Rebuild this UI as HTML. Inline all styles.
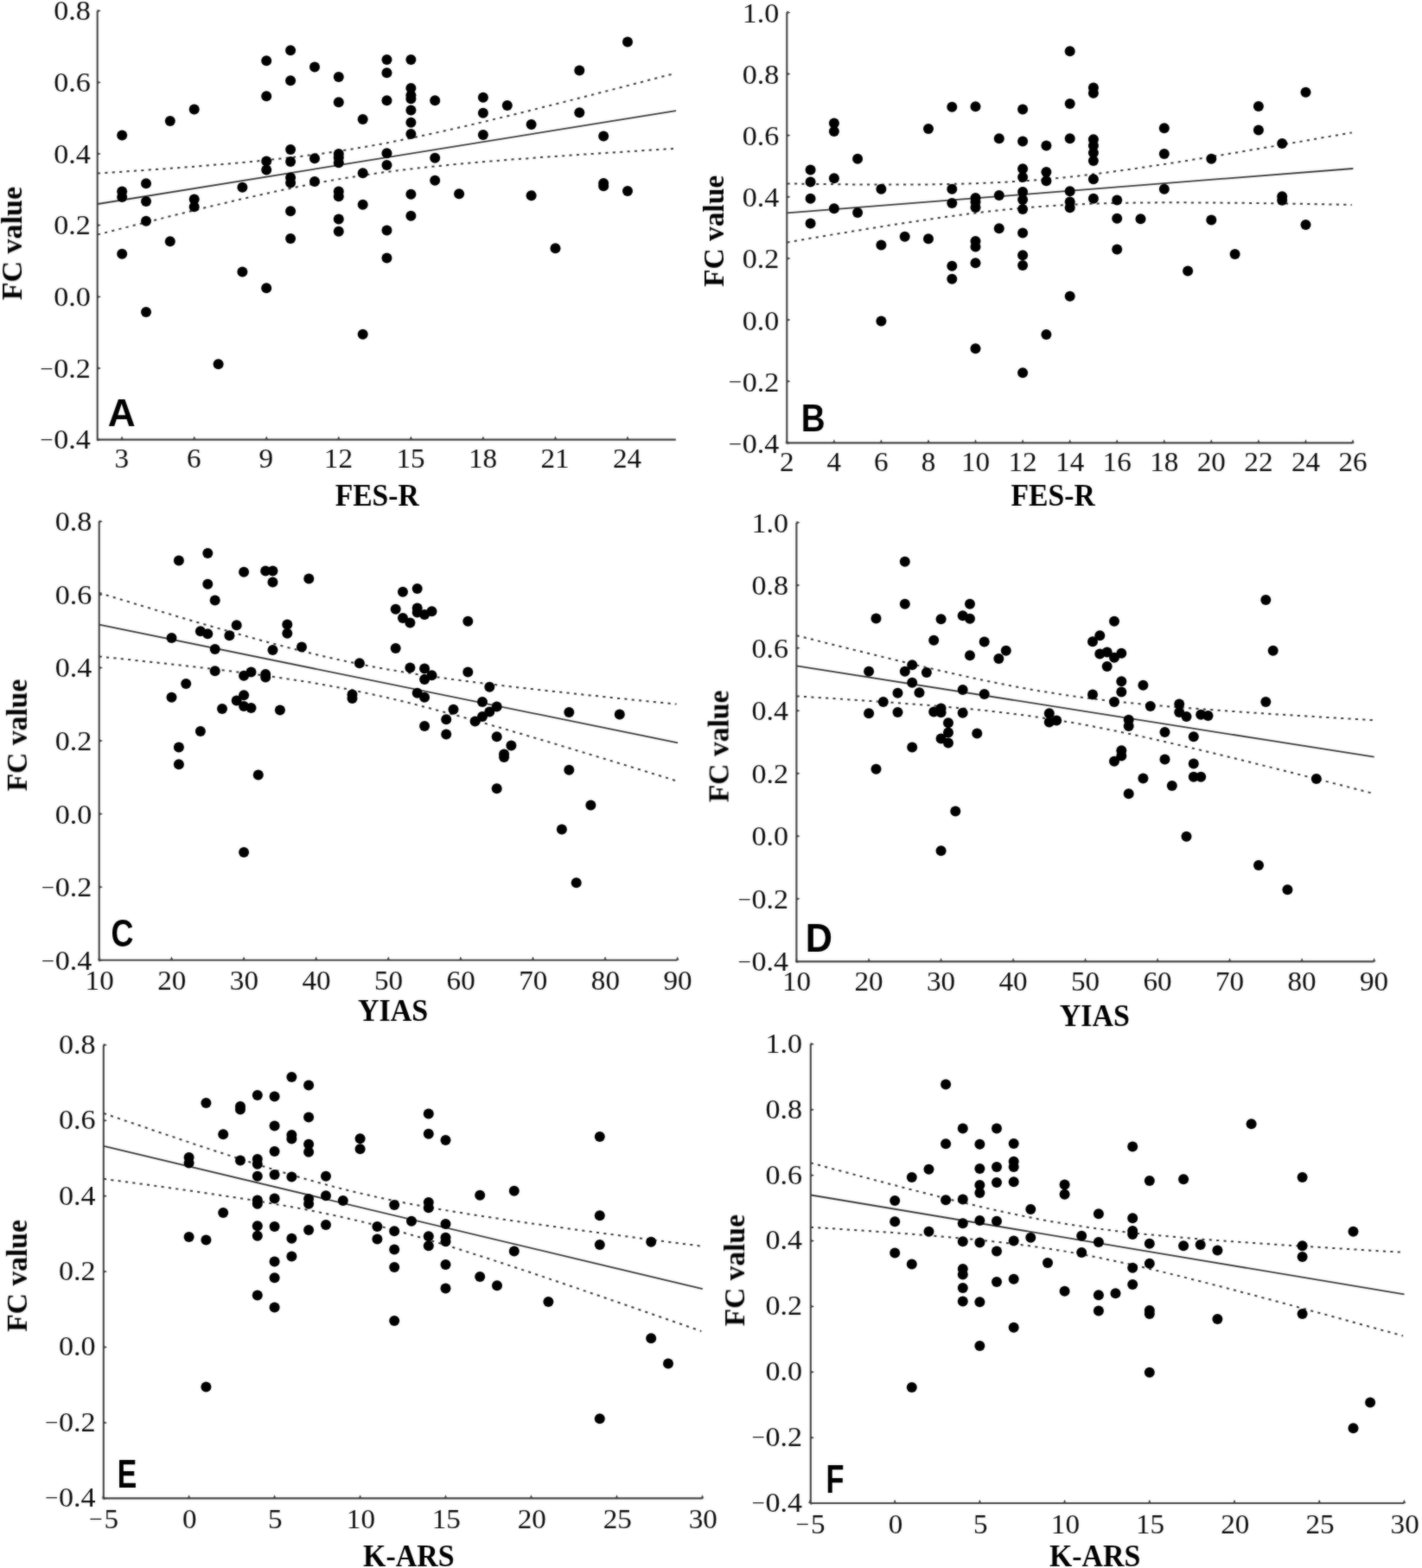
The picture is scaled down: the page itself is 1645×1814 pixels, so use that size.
<!DOCTYPE html>
<html lang="en">
<head>
<meta charset="utf-8">
<title>FC value correlations</title>
<style>
html,body{margin:0;padding:0;background:#fff;}
body{width:1645px;height:1814px;overflow:hidden;}
svg{display:block;}
.t{font-family:"Liberation Serif","DejaVu Serif",serif;font-size:31.0px;fill:#111;}
.l{font-family:"Liberation Serif","DejaVu Serif",serif;font-size:35.0px;font-weight:bold;fill:#000;}
.p{font-family:"Liberation Sans","DejaVu Sans",sans-serif;font-size:45.0px;font-weight:bold;fill:#000;}
circle{fill:#000;}
</style>
</head>
<body>
<svg width="1645" height="1814" viewBox="0 0 1645 1814">
<defs><filter id="soft" x="0" y="0" width="1645" height="1814" filterUnits="userSpaceOnUse"><feGaussianBlur in="SourceGraphic" stdDeviation="0.8" result="b"/><feComposite in="SourceGraphic" in2="b" operator="arithmetic" k1="0" k2="0.5" k3="0.5" k4="0"/></filter></defs>
<rect width="1645" height="1814" fill="#fff"/>
<g filter="url(#soft)">
<g id="panel-A">
<path d="M112.7 12.4 V508.6 H781.8" fill="none" stroke="#444" stroke-width="2.1"/>
<path d="M139.2 508.6 l1.9 -4.2 l1.9 4.2z M222.8 508.6 l1.9 -4.2 l1.9 4.2z M306.4 508.6 l1.9 -4.2 l1.9 4.2z M389.9 508.6 l1.9 -4.2 l1.9 4.2z M473.5 508.6 l1.9 -4.2 l1.9 4.2z M557.0 508.6 l1.9 -4.2 l1.9 4.2z M640.6 508.6 l1.9 -4.2 l1.9 4.2z M724.1 508.6 l1.9 -4.2 l1.9 4.2z M112.7 10.7 l4.2 1.9 l-4.2 1.9z M112.7 93.4 l4.2 1.9 l-4.2 1.9z M112.7 176.0 l4.2 1.9 l-4.2 1.9z M112.7 258.7 l4.2 1.9 l-4.2 1.9z M112.7 341.4 l4.2 1.9 l-4.2 1.9z M112.7 424.1 l4.2 1.9 l-4.2 1.9z M112.7 506.8 l4.2 1.9 l-4.2 1.9z" fill="#444" stroke="none"/>
<path d="M113.0 236.0 L782.0 128.2" fill="none" stroke="#383838" stroke-width="1.8"/>
<path d="M113.0 200.6 L124.1 199.8 L135.2 199.1 L146.4 198.3 L157.5 197.6 L168.6 196.8 L179.8 196.0 L190.9 195.2 L202.0 194.4 L213.1 193.6 L224.2 192.7 L235.4 191.8 L246.5 190.9 L257.6 190.0 L268.8 189.0 L279.9 188.0 L291.0 187.0 L302.1 185.9 L313.2 184.7 L324.4 183.6 L335.5 182.3 L346.6 181.0 L357.8 179.6 L368.9 178.1 L380.0 176.6 L391.1 174.9 L402.2 173.2 L413.4 171.4 L424.5 169.5 L435.6 167.5 L446.8 165.5 L457.9 163.3 L469.0 161.1 L480.1 158.8 L491.2 156.4 L502.4 154.0 L513.5 151.6 L524.6 149.0 L535.8 146.5 L546.9 143.9 L558.0 141.3 L569.1 138.6 L580.2 135.9 L591.4 133.2 L602.5 130.5 L613.6 127.7 L624.8 124.9 L635.9 122.1 L647.0 119.3 L658.1 116.5 L669.2 113.7 L680.4 110.9 L691.5 108.0 L702.6 105.1 L713.8 102.3 L724.9 99.4 L736.0 96.5 L747.1 93.6 L758.2 90.7 L769.4 87.8 L780.5 84.9" fill="none" stroke="#383838" stroke-width="2.0" stroke-dasharray="3.1 5.3"/>
<path d="M113.0 271.4 L124.1 268.6 L135.2 265.7 L146.4 262.9 L157.5 260.1 L168.6 257.3 L179.8 254.5 L190.9 251.7 L202.0 248.9 L213.1 246.2 L224.2 243.4 L235.4 240.7 L246.5 238.1 L257.6 235.4 L268.8 232.8 L279.9 230.2 L291.0 227.7 L302.1 225.2 L313.2 222.7 L324.4 220.3 L335.5 218.0 L346.6 215.7 L357.8 213.5 L368.9 211.4 L380.0 209.4 L391.1 207.4 L402.2 205.6 L413.4 203.8 L424.5 202.1 L435.6 200.5 L446.8 199.0 L457.9 197.5 L469.0 196.2 L480.1 194.9 L491.2 193.7 L502.4 192.5 L513.5 191.4 L524.6 190.3 L535.8 189.3 L546.9 188.3 L558.0 187.3 L569.1 186.4 L580.2 185.5 L591.4 184.6 L602.5 183.8 L613.6 183.0 L624.8 182.1 L635.9 181.3 L647.0 180.6 L658.1 179.8 L669.2 179.0 L680.4 178.3 L691.5 177.6 L702.6 176.8 L713.8 176.1 L724.9 175.4 L736.0 174.7 L747.1 174.0 L758.2 173.3 L769.4 172.6 L780.5 171.9" fill="none" stroke="#383838" stroke-width="2.0" stroke-dasharray="3.1 5.3"/>
<circle cx="141.2" cy="156.5" r="6.0"/>
<circle cx="141.2" cy="221.6" r="6.0"/>
<circle cx="141.2" cy="228.0" r="6.0"/>
<circle cx="141.2" cy="293.8" r="6.0"/>
<circle cx="169.0" cy="212.2" r="6.0"/>
<circle cx="169.0" cy="233.1" r="6.0"/>
<circle cx="169.0" cy="255.7" r="6.0"/>
<circle cx="169.0" cy="361.1" r="6.0"/>
<circle cx="196.8" cy="139.9" r="6.0"/>
<circle cx="196.8" cy="279.3" r="6.0"/>
<circle cx="224.7" cy="126.4" r="6.0"/>
<circle cx="224.7" cy="230.5" r="6.0"/>
<circle cx="224.7" cy="239.2" r="6.0"/>
<circle cx="252.6" cy="421.2" r="6.0"/>
<circle cx="280.4" cy="216.8" r="6.0"/>
<circle cx="280.4" cy="314.6" r="6.0"/>
<circle cx="308.2" cy="70.2" r="6.0"/>
<circle cx="308.2" cy="111.3" r="6.0"/>
<circle cx="308.2" cy="186.4" r="6.0"/>
<circle cx="308.2" cy="196.6" r="6.0"/>
<circle cx="308.2" cy="333.2" r="6.0"/>
<circle cx="336.1" cy="58.2" r="6.0"/>
<circle cx="336.1" cy="93.2" r="6.0"/>
<circle cx="336.1" cy="173.1" r="6.0"/>
<circle cx="336.1" cy="186.9" r="6.0"/>
<circle cx="336.1" cy="205.5" r="6.0"/>
<circle cx="336.1" cy="211.4" r="6.0"/>
<circle cx="336.1" cy="244.3" r="6.0"/>
<circle cx="336.1" cy="276.0" r="6.0"/>
<circle cx="364.0" cy="77.6" r="6.0"/>
<circle cx="364.0" cy="183.3" r="6.0"/>
<circle cx="364.0" cy="209.9" r="6.0"/>
<circle cx="391.8" cy="89.1" r="6.0"/>
<circle cx="391.8" cy="118.2" r="6.0"/>
<circle cx="391.8" cy="178.0" r="6.0"/>
<circle cx="391.8" cy="182.2" r="6.0"/>
<circle cx="391.8" cy="188.2" r="6.0"/>
<circle cx="391.8" cy="221.6" r="6.0"/>
<circle cx="391.8" cy="227.2" r="6.0"/>
<circle cx="391.8" cy="253.4" r="6.0"/>
<circle cx="391.8" cy="267.7" r="6.0"/>
<circle cx="419.7" cy="138.1" r="6.0"/>
<circle cx="419.7" cy="200.2" r="6.0"/>
<circle cx="419.7" cy="236.7" r="6.0"/>
<circle cx="419.7" cy="386.8" r="6.0"/>
<circle cx="447.5" cy="68.9" r="6.0"/>
<circle cx="447.5" cy="84.2" r="6.0"/>
<circle cx="447.5" cy="116.2" r="6.0"/>
<circle cx="447.5" cy="177.2" r="6.0"/>
<circle cx="447.5" cy="191.0" r="6.0"/>
<circle cx="447.5" cy="266.4" r="6.0"/>
<circle cx="447.5" cy="298.4" r="6.0"/>
<circle cx="475.4" cy="68.9" r="6.0"/>
<circle cx="475.4" cy="102.1" r="6.0"/>
<circle cx="475.4" cy="110.3" r="6.0"/>
<circle cx="475.4" cy="114.3" r="6.0"/>
<circle cx="475.4" cy="127.6" r="6.0"/>
<circle cx="475.4" cy="141.7" r="6.0"/>
<circle cx="475.4" cy="155.0" r="6.0"/>
<circle cx="475.4" cy="224.7" r="6.0"/>
<circle cx="475.4" cy="249.8" r="6.0"/>
<circle cx="503.2" cy="116.2" r="6.0"/>
<circle cx="503.2" cy="182.8" r="6.0"/>
<circle cx="503.2" cy="208.8" r="6.0"/>
<circle cx="531.1" cy="224.2" r="6.0"/>
<circle cx="558.9" cy="112.8" r="6.0"/>
<circle cx="558.9" cy="130.7" r="6.0"/>
<circle cx="558.9" cy="156.0" r="6.0"/>
<circle cx="586.8" cy="122.0" r="6.0"/>
<circle cx="614.6" cy="144.0" r="6.0"/>
<circle cx="614.6" cy="226.2" r="6.0"/>
<circle cx="642.5" cy="287.2" r="6.0"/>
<circle cx="670.3" cy="81.4" r="6.0"/>
<circle cx="670.3" cy="130.2" r="6.0"/>
<circle cx="698.2" cy="157.5" r="6.0"/>
<circle cx="698.2" cy="211.9" r="6.0"/>
<circle cx="698.2" cy="215.2" r="6.0"/>
<circle cx="726.0" cy="48.5" r="6.0"/>
<circle cx="726.0" cy="221.1" r="6.0"/>
<text class="t" text-anchor="middle" transform="translate(140.8 541.2) scale(1.070 1)">3</text>
<text class="t" text-anchor="middle" transform="translate(224.3 541.2) scale(1.070 1)">6</text>
<text class="t" text-anchor="middle" transform="translate(307.9 541.2) scale(1.070 1)">9</text>
<text class="t" text-anchor="middle" transform="translate(391.4 541.2) scale(1.070 1)">12</text>
<text class="t" text-anchor="middle" transform="translate(475.0 541.2) scale(1.070 1)">15</text>
<text class="t" text-anchor="middle" transform="translate(558.5 541.2) scale(1.070 1)">18</text>
<text class="t" text-anchor="middle" transform="translate(642.1 541.2) scale(1.070 1)">21</text>
<text class="t" text-anchor="middle" transform="translate(725.6 541.2) scale(1.070 1)">24</text>
<text class="t" text-anchor="end" transform="translate(104.9 23.3) scale(1.100 1)">0.8</text>
<text class="t" text-anchor="end" transform="translate(104.9 106.0) scale(1.100 1)">0.6</text>
<text class="t" text-anchor="end" transform="translate(104.9 188.6) scale(1.100 1)">0.4</text>
<text class="t" text-anchor="end" transform="translate(104.9 271.3) scale(1.100 1)">0.2</text>
<text class="t" text-anchor="end" transform="translate(104.9 354.0) scale(1.100 1)">0.0</text>
<text class="t" text-anchor="end" transform="translate(104.9 436.7) scale(1.100 1)"><tspan font-size="24.6" dy="-2.2">−</tspan><tspan dx="0.4" dy="2.2">0.2</tspan></text>
<text class="t" text-anchor="end" transform="translate(104.9 519.4) scale(1.100 1)"><tspan font-size="24.6" dy="-2.2">−</tspan><tspan dx="0.4" dy="2.2">0.4</tspan></text>
<text class="l" transform="translate(387.63 585.4) scale(0.9613 1)">FES-R</text>
<text class="l" transform="translate(25.2 347.28) rotate(-90) scale(0.9723 0.972)">FC value</text>
<text class="p" transform="translate(124.77 493.0) scale(0.9832 0.9981)">A</text>
</g>
<g id="panel-B">
<path d="M910.3 14.2 V512.4 H1565.3" fill="none" stroke="#444" stroke-width="2.1"/>
<path d="M908.4 512.4 l1.9 -4.2 l1.9 4.2z M963.0 512.4 l1.9 -4.2 l1.9 4.2z M1017.5 512.4 l1.9 -4.2 l1.9 4.2z M1072.1 512.4 l1.9 -4.2 l1.9 4.2z M1126.6 512.4 l1.9 -4.2 l1.9 4.2z M1181.2 512.4 l1.9 -4.2 l1.9 4.2z M1235.8 512.4 l1.9 -4.2 l1.9 4.2z M1290.3 512.4 l1.9 -4.2 l1.9 4.2z M1344.9 512.4 l1.9 -4.2 l1.9 4.2z M1399.4 512.4 l1.9 -4.2 l1.9 4.2z M1454.0 512.4 l1.9 -4.2 l1.9 4.2z M1508.6 512.4 l1.9 -4.2 l1.9 4.2z M1563.1 512.4 l1.9 -4.2 l1.9 4.2z M910.3 12.5 l4.2 1.9 l-4.2 1.9z M910.3 83.6 l4.2 1.9 l-4.2 1.9z M910.3 154.8 l4.2 1.9 l-4.2 1.9z M910.3 225.9 l4.2 1.9 l-4.2 1.9z M910.3 297.1 l4.2 1.9 l-4.2 1.9z M910.3 368.2 l4.2 1.9 l-4.2 1.9z M910.3 439.3 l4.2 1.9 l-4.2 1.9z M910.3 510.5 l4.2 1.9 l-4.2 1.9z" fill="#444" stroke="none"/>
<path d="M910.6 246.4 L1565.3 195.0" fill="none" stroke="#383838" stroke-width="1.8"/>
<path d="M910.6 212.4 L921.5 212.6 L932.4 212.7 L943.3 212.9 L954.1 213.0 L965.0 213.1 L975.9 213.3 L986.8 213.4 L997.7 213.4 L1008.6 213.5 L1019.5 213.5 L1030.4 213.6 L1041.2 213.5 L1052.1 213.5 L1063.0 213.4 L1073.9 213.4 L1084.8 213.2 L1095.7 213.0 L1106.6 212.8 L1117.4 212.5 L1128.3 212.2 L1139.2 211.8 L1150.1 211.3 L1161.0 210.8 L1171.9 210.1 L1182.8 209.4 L1193.7 208.7 L1204.5 207.8 L1215.4 206.8 L1226.3 205.8 L1237.2 204.7 L1248.1 203.5 L1259.0 202.2 L1269.9 200.9 L1280.7 199.5 L1291.6 198.0 L1302.5 196.5 L1313.4 195.0 L1324.3 193.4 L1335.2 191.7 L1346.1 190.1 L1357.0 188.4 L1367.8 186.7 L1378.7 184.9 L1389.6 183.2 L1400.5 181.4 L1411.4 179.6 L1422.3 177.8 L1433.2 176.0 L1444.0 174.1 L1454.9 172.3 L1465.8 170.4 L1476.7 168.6 L1487.6 166.7 L1498.5 164.8 L1509.4 162.9 L1520.3 161.0 L1531.1 159.1 L1542.0 157.2 L1552.9 155.3 L1563.8 153.4" fill="none" stroke="#383838" stroke-width="2.0" stroke-dasharray="3.1 5.3"/>
<path d="M910.6 280.4 L921.5 278.5 L932.4 276.6 L943.3 274.8 L954.1 272.9 L965.0 271.1 L975.9 269.3 L986.8 267.5 L997.7 265.7 L1008.6 263.9 L1019.5 262.2 L1030.4 260.4 L1041.2 258.7 L1052.1 257.1 L1063.0 255.4 L1073.9 253.8 L1084.8 252.2 L1095.7 250.7 L1106.6 249.2 L1117.4 247.8 L1128.3 246.4 L1139.2 245.1 L1150.1 243.9 L1161.0 242.7 L1171.9 241.6 L1182.8 240.6 L1193.7 239.7 L1204.5 238.9 L1215.4 238.1 L1226.3 237.4 L1237.2 236.9 L1248.1 236.3 L1259.0 235.9 L1269.9 235.5 L1280.7 235.2 L1291.6 235.0 L1302.5 234.8 L1313.4 234.6 L1324.3 234.5 L1335.2 234.4 L1346.1 234.3 L1357.0 234.3 L1367.8 234.3 L1378.7 234.4 L1389.6 234.4 L1400.5 234.5 L1411.4 234.6 L1422.3 234.7 L1433.2 234.8 L1444.0 234.9 L1454.9 235.0 L1465.8 235.2 L1476.7 235.4 L1487.6 235.5 L1498.5 235.7 L1509.4 235.9 L1520.3 236.1 L1531.1 236.3 L1542.0 236.5 L1552.9 236.7 L1563.8 236.9" fill="none" stroke="#383838" stroke-width="2.0" stroke-dasharray="3.1 5.3"/>
<circle cx="937.6" cy="196.6" r="6.0"/>
<circle cx="937.6" cy="210.6" r="6.0"/>
<circle cx="937.6" cy="229.8" r="6.0"/>
<circle cx="937.6" cy="258.4" r="6.0"/>
<circle cx="964.9" cy="142.5" r="6.0"/>
<circle cx="964.9" cy="151.9" r="6.0"/>
<circle cx="964.9" cy="206.3" r="6.0"/>
<circle cx="964.9" cy="241.3" r="6.0"/>
<circle cx="992.1" cy="183.8" r="6.0"/>
<circle cx="992.1" cy="245.9" r="6.0"/>
<circle cx="1019.4" cy="218.8" r="6.0"/>
<circle cx="1019.4" cy="283.4" r="6.0"/>
<circle cx="1019.4" cy="371.4" r="6.0"/>
<circle cx="1046.7" cy="273.7" r="6.0"/>
<circle cx="1074.0" cy="149.1" r="6.0"/>
<circle cx="1074.0" cy="276.2" r="6.0"/>
<circle cx="1101.3" cy="123.8" r="6.0"/>
<circle cx="1101.3" cy="218.8" r="6.0"/>
<circle cx="1101.3" cy="234.9" r="6.0"/>
<circle cx="1101.3" cy="307.8" r="6.0"/>
<circle cx="1101.3" cy="322.8" r="6.0"/>
<circle cx="1128.5" cy="123.3" r="6.0"/>
<circle cx="1128.5" cy="229.0" r="6.0"/>
<circle cx="1128.5" cy="233.6" r="6.0"/>
<circle cx="1128.5" cy="240.0" r="6.0"/>
<circle cx="1128.5" cy="279.0" r="6.0"/>
<circle cx="1128.5" cy="285.6" r="6.0"/>
<circle cx="1128.5" cy="304.2" r="6.0"/>
<circle cx="1128.5" cy="403.3" r="6.0"/>
<circle cx="1155.8" cy="160.3" r="6.0"/>
<circle cx="1155.8" cy="225.9" r="6.0"/>
<circle cx="1155.8" cy="264.2" r="6.0"/>
<circle cx="1183.1" cy="126.4" r="6.0"/>
<circle cx="1183.1" cy="163.4" r="6.0"/>
<circle cx="1183.1" cy="195.3" r="6.0"/>
<circle cx="1183.1" cy="205.0" r="6.0"/>
<circle cx="1183.1" cy="222.1" r="6.0"/>
<circle cx="1183.1" cy="231.0" r="6.0"/>
<circle cx="1183.1" cy="242.0" r="6.0"/>
<circle cx="1183.1" cy="269.6" r="6.0"/>
<circle cx="1183.1" cy="295.2" r="6.0"/>
<circle cx="1183.1" cy="307.0" r="6.0"/>
<circle cx="1183.1" cy="431.3" r="6.0"/>
<circle cx="1210.4" cy="168.5" r="6.0"/>
<circle cx="1210.4" cy="199.1" r="6.0"/>
<circle cx="1210.4" cy="209.3" r="6.0"/>
<circle cx="1210.4" cy="386.9" r="6.0"/>
<circle cx="1237.7" cy="59.2" r="6.0"/>
<circle cx="1237.7" cy="120.0" r="6.0"/>
<circle cx="1237.7" cy="160.3" r="6.0"/>
<circle cx="1237.7" cy="221.2" r="6.0"/>
<circle cx="1237.7" cy="233.6" r="6.0"/>
<circle cx="1237.7" cy="240.2" r="6.0"/>
<circle cx="1237.7" cy="342.8" r="6.0"/>
<circle cx="1264.9" cy="101.6" r="6.0"/>
<circle cx="1264.9" cy="107.7" r="6.0"/>
<circle cx="1264.9" cy="161.3" r="6.0"/>
<circle cx="1264.9" cy="168.5" r="6.0"/>
<circle cx="1264.9" cy="176.7" r="6.0"/>
<circle cx="1264.9" cy="185.9" r="6.0"/>
<circle cx="1264.9" cy="207.3" r="6.0"/>
<circle cx="1264.9" cy="229.8" r="6.0"/>
<circle cx="1292.2" cy="231.6" r="6.0"/>
<circle cx="1292.2" cy="252.7" r="6.0"/>
<circle cx="1292.2" cy="288.5" r="6.0"/>
<circle cx="1319.5" cy="253.3" r="6.0"/>
<circle cx="1346.8" cy="148.3" r="6.0"/>
<circle cx="1346.8" cy="177.9" r="6.0"/>
<circle cx="1346.8" cy="218.8" r="6.0"/>
<circle cx="1374.1" cy="313.4" r="6.0"/>
<circle cx="1401.3" cy="183.8" r="6.0"/>
<circle cx="1401.3" cy="254.5" r="6.0"/>
<circle cx="1428.6" cy="293.9" r="6.0"/>
<circle cx="1455.9" cy="123.1" r="6.0"/>
<circle cx="1455.9" cy="150.6" r="6.0"/>
<circle cx="1483.2" cy="165.9" r="6.0"/>
<circle cx="1483.2" cy="227.2" r="6.0"/>
<circle cx="1483.2" cy="231.8" r="6.0"/>
<circle cx="1510.5" cy="106.7" r="6.0"/>
<circle cx="1510.5" cy="259.9" r="6.0"/>
<text class="t" text-anchor="middle" transform="translate(910.3 544.8) scale(1.070 1)">2</text>
<text class="t" text-anchor="middle" transform="translate(964.9 544.8) scale(1.070 1)">4</text>
<text class="t" text-anchor="middle" transform="translate(1019.4 544.8) scale(1.070 1)">6</text>
<text class="t" text-anchor="middle" transform="translate(1074.0 544.8) scale(1.070 1)">8</text>
<text class="t" text-anchor="middle" transform="translate(1128.5 544.8) scale(1.070 1)">10</text>
<text class="t" text-anchor="middle" transform="translate(1183.1 544.8) scale(1.070 1)">12</text>
<text class="t" text-anchor="middle" transform="translate(1237.7 544.8) scale(1.070 1)">14</text>
<text class="t" text-anchor="middle" transform="translate(1292.2 544.8) scale(1.070 1)">16</text>
<text class="t" text-anchor="middle" transform="translate(1346.8 544.8) scale(1.070 1)">18</text>
<text class="t" text-anchor="middle" transform="translate(1401.3 544.8) scale(1.070 1)">20</text>
<text class="t" text-anchor="middle" transform="translate(1455.9 544.8) scale(1.070 1)">22</text>
<text class="t" text-anchor="middle" transform="translate(1510.5 544.8) scale(1.070 1)">24</text>
<text class="t" text-anchor="middle" transform="translate(1565.0 544.8) scale(1.070 1)">26</text>
<text class="t" text-anchor="end" transform="translate(901.3 25.8) scale(1.100 1)">1.0</text>
<text class="t" text-anchor="end" transform="translate(901.3 96.9) scale(1.100 1)">0.8</text>
<text class="t" text-anchor="end" transform="translate(901.3 168.1) scale(1.100 1)">0.6</text>
<text class="t" text-anchor="end" transform="translate(901.3 239.2) scale(1.100 1)">0.4</text>
<text class="t" text-anchor="end" transform="translate(901.3 310.4) scale(1.100 1)">0.2</text>
<text class="t" text-anchor="end" transform="translate(901.3 381.5) scale(1.100 1)">0.0</text>
<text class="t" text-anchor="end" transform="translate(901.3 452.6) scale(1.100 1)"><tspan font-size="24.6" dy="-2.2">−</tspan><tspan dx="0.4" dy="2.2">0.2</tspan></text>
<text class="t" text-anchor="end" transform="translate(901.3 523.8) scale(1.100 1)"><tspan font-size="24.6" dy="-2.2">−</tspan><tspan dx="0.4" dy="2.2">0.4</tspan></text>
<text class="l" transform="translate(1169.53 585.4) scale(0.9623 1)">FES-R</text>
<text class="l" transform="translate(837.1 331.87) rotate(-90) scale(0.9559 0.972)">FC value</text>
<text class="p" transform="translate(926.80 499.2) scale(0.8561 1.0013)">B</text>
</g>
<g id="panel-C">
<path d="M114.7 603.1 V1110.7 H783.6" fill="none" stroke="#444" stroke-width="2.1"/>
<path d="M113.0 1110.7 l1.9 -4.2 l1.9 4.2z M196.6 1110.7 l1.9 -4.2 l1.9 4.2z M280.2 1110.7 l1.9 -4.2 l1.9 4.2z M363.8 1110.7 l1.9 -4.2 l1.9 4.2z M447.4 1110.7 l1.9 -4.2 l1.9 4.2z M531.0 1110.7 l1.9 -4.2 l1.9 4.2z M614.6 1110.7 l1.9 -4.2 l1.9 4.2z M698.2 1110.7 l1.9 -4.2 l1.9 4.2z M781.8 1110.7 l1.9 -4.2 l1.9 4.2z M114.7 601.4 l4.2 1.9 l-4.2 1.9z M114.7 686.0 l4.2 1.9 l-4.2 1.9z M114.7 770.6 l4.2 1.9 l-4.2 1.9z M114.7 855.1 l4.2 1.9 l-4.2 1.9z M114.7 939.7 l4.2 1.9 l-4.2 1.9z M114.7 1024.3 l4.2 1.9 l-4.2 1.9z M114.7 1108.9 l4.2 1.9 l-4.2 1.9z" fill="#444" stroke="none"/>
<path d="M114.7 722.7 L784.0 859.3" fill="none" stroke="#383838" stroke-width="1.8"/>
<path d="M114.7 685.9 L125.8 689.3 L137.0 692.7 L148.1 696.0 L159.2 699.4 L170.3 702.7 L181.5 706.1 L192.6 709.4 L203.7 712.7 L214.9 716.0 L226.0 719.3 L237.1 722.5 L248.3 725.7 L259.4 728.9 L270.5 732.1 L281.6 735.2 L292.8 738.3 L303.9 741.4 L315.0 744.3 L326.2 747.3 L337.3 750.2 L348.4 753.0 L359.6 755.7 L370.7 758.4 L381.8 760.9 L392.9 763.4 L404.1 765.8 L415.2 768.1 L426.3 770.3 L437.5 772.4 L448.6 774.4 L459.7 776.3 L470.9 778.1 L482.0 779.9 L493.1 781.6 L504.2 783.2 L515.4 784.8 L526.5 786.3 L537.6 787.8 L548.8 789.2 L559.9 790.6 L571.0 791.9 L582.2 793.3 L593.3 794.6 L604.4 795.9 L615.5 797.1 L626.7 798.4 L637.8 799.6 L648.9 800.8 L660.1 802.0 L671.2 803.2 L682.3 804.4 L693.5 805.5 L704.6 806.7 L715.7 807.9 L726.9 809.0 L738.0 810.1 L749.1 811.3 L760.2 812.4 L771.4 813.5 L782.5 814.6" fill="none" stroke="#383838" stroke-width="2.0" stroke-dasharray="3.1 5.3"/>
<path d="M114.7 759.5 L125.8 760.7 L137.0 761.8 L148.1 763.0 L159.2 764.2 L170.3 765.4 L181.5 766.6 L192.6 767.8 L203.7 769.0 L214.9 770.3 L226.0 771.6 L237.1 772.9 L248.3 774.2 L259.4 775.5 L270.5 776.9 L281.6 778.3 L292.8 779.8 L303.9 781.3 L315.0 782.8 L326.2 784.4 L337.3 786.1 L348.4 787.8 L359.6 789.6 L370.7 791.5 L381.8 793.5 L392.9 795.6 L404.1 797.7 L415.2 800.0 L426.3 802.3 L437.5 804.8 L448.6 807.3 L459.7 809.9 L470.9 812.6 L482.0 815.4 L493.1 818.3 L504.2 821.2 L515.4 824.2 L526.5 827.2 L537.6 830.3 L548.8 833.4 L559.9 836.5 L571.0 839.7 L582.2 842.9 L593.3 846.2 L604.4 849.4 L615.5 852.7 L626.7 856.0 L637.8 859.3 L648.9 862.7 L660.1 866.0 L671.2 869.4 L682.3 872.7 L693.5 876.1 L704.6 879.5 L715.7 882.9 L726.9 886.3 L738.0 889.7 L749.1 893.1 L760.2 896.5 L771.4 899.9 L782.5 903.4" fill="none" stroke="#383838" stroke-width="2.0" stroke-dasharray="3.1 5.3"/>
<circle cx="198.5" cy="737.9" r="6.0"/>
<circle cx="198.5" cy="806.8" r="6.0"/>
<circle cx="206.9" cy="648.5" r="6.0"/>
<circle cx="206.9" cy="864.4" r="6.0"/>
<circle cx="206.9" cy="884.2" r="6.0"/>
<circle cx="215.2" cy="791.0" r="6.0"/>
<circle cx="231.9" cy="730.2" r="6.0"/>
<circle cx="231.9" cy="845.9" r="6.0"/>
<circle cx="240.3" cy="640.1" r="6.0"/>
<circle cx="240.3" cy="675.8" r="6.0"/>
<circle cx="240.3" cy="733.3" r="6.0"/>
<circle cx="248.7" cy="694.5" r="6.0"/>
<circle cx="248.7" cy="751.1" r="6.0"/>
<circle cx="248.7" cy="776.2" r="6.0"/>
<circle cx="257.0" cy="820.1" r="6.0"/>
<circle cx="265.4" cy="735.3" r="6.0"/>
<circle cx="273.7" cy="723.3" r="6.0"/>
<circle cx="273.7" cy="810.6" r="6.0"/>
<circle cx="282.1" cy="661.8" r="6.0"/>
<circle cx="282.1" cy="781.8" r="6.0"/>
<circle cx="282.1" cy="804.2" r="6.0"/>
<circle cx="282.1" cy="817.0" r="6.0"/>
<circle cx="282.1" cy="985.9" r="6.0"/>
<circle cx="290.5" cy="777.4" r="6.0"/>
<circle cx="290.5" cy="819.0" r="6.0"/>
<circle cx="298.8" cy="896.5" r="6.0"/>
<circle cx="307.2" cy="660.5" r="6.0"/>
<circle cx="307.2" cy="780.0" r="6.0"/>
<circle cx="307.2" cy="783.5" r="6.0"/>
<circle cx="315.5" cy="660.5" r="6.0"/>
<circle cx="315.5" cy="673.5" r="6.0"/>
<circle cx="315.5" cy="751.9" r="6.0"/>
<circle cx="323.9" cy="821.6" r="6.0"/>
<circle cx="332.3" cy="722.5" r="6.0"/>
<circle cx="332.3" cy="732.8" r="6.0"/>
<circle cx="349.0" cy="748.6" r="6.0"/>
<circle cx="357.3" cy="669.4" r="6.0"/>
<circle cx="407.5" cy="803.5" r="6.0"/>
<circle cx="407.5" cy="808.0" r="6.0"/>
<circle cx="415.9" cy="767.2" r="6.0"/>
<circle cx="457.7" cy="704.7" r="6.0"/>
<circle cx="457.7" cy="750.1" r="6.0"/>
<circle cx="466.0" cy="684.8" r="6.0"/>
<circle cx="466.0" cy="714.9" r="6.0"/>
<circle cx="474.4" cy="720.5" r="6.0"/>
<circle cx="474.4" cy="772.6" r="6.0"/>
<circle cx="482.7" cy="680.9" r="6.0"/>
<circle cx="482.7" cy="703.4" r="6.0"/>
<circle cx="482.7" cy="708.5" r="6.0"/>
<circle cx="482.7" cy="801.7" r="6.0"/>
<circle cx="491.1" cy="711.1" r="6.0"/>
<circle cx="491.1" cy="773.6" r="6.0"/>
<circle cx="491.1" cy="785.9" r="6.0"/>
<circle cx="491.1" cy="806.8" r="6.0"/>
<circle cx="491.1" cy="840.0" r="6.0"/>
<circle cx="499.5" cy="707.2" r="6.0"/>
<circle cx="499.5" cy="781.3" r="6.0"/>
<circle cx="516.2" cy="832.3" r="6.0"/>
<circle cx="516.2" cy="849.4" r="6.0"/>
<circle cx="524.5" cy="820.8" r="6.0"/>
<circle cx="541.3" cy="718.7" r="6.0"/>
<circle cx="541.3" cy="777.4" r="6.0"/>
<circle cx="549.6" cy="834.4" r="6.0"/>
<circle cx="558.0" cy="811.9" r="6.0"/>
<circle cx="558.0" cy="829.0" r="6.0"/>
<circle cx="566.3" cy="794.8" r="6.0"/>
<circle cx="566.3" cy="823.4" r="6.0"/>
<circle cx="574.7" cy="817.5" r="6.0"/>
<circle cx="574.7" cy="852.2" r="6.0"/>
<circle cx="574.7" cy="912.3" r="6.0"/>
<circle cx="583.1" cy="872.5" r="6.0"/>
<circle cx="583.1" cy="876.0" r="6.0"/>
<circle cx="591.4" cy="862.6" r="6.0"/>
<circle cx="649.9" cy="959.6" r="6.0"/>
<circle cx="658.3" cy="823.9" r="6.0"/>
<circle cx="658.3" cy="890.8" r="6.0"/>
<circle cx="666.7" cy="1021.3" r="6.0"/>
<circle cx="683.4" cy="931.5" r="6.0"/>
<circle cx="716.8" cy="826.4" r="6.0"/>
<text class="t" text-anchor="middle" transform="translate(115.2 1144.7) scale(1.070 1)">10</text>
<text class="t" text-anchor="middle" transform="translate(198.8 1144.7) scale(1.070 1)">20</text>
<text class="t" text-anchor="middle" transform="translate(282.4 1144.7) scale(1.070 1)">30</text>
<text class="t" text-anchor="middle" transform="translate(366.0 1144.7) scale(1.070 1)">40</text>
<text class="t" text-anchor="middle" transform="translate(449.6 1144.7) scale(1.070 1)">50</text>
<text class="t" text-anchor="middle" transform="translate(533.2 1144.7) scale(1.070 1)">60</text>
<text class="t" text-anchor="middle" transform="translate(616.8 1144.7) scale(1.070 1)">70</text>
<text class="t" text-anchor="middle" transform="translate(700.4 1144.7) scale(1.070 1)">80</text>
<text class="t" text-anchor="middle" transform="translate(784.0 1144.7) scale(1.070 1)">90</text>
<text class="t" text-anchor="end" transform="translate(106.3 614.2) scale(1.100 1)">0.8</text>
<text class="t" text-anchor="end" transform="translate(106.3 698.8) scale(1.100 1)">0.6</text>
<text class="t" text-anchor="end" transform="translate(106.3 783.4) scale(1.100 1)">0.4</text>
<text class="t" text-anchor="end" transform="translate(106.3 867.9) scale(1.100 1)">0.2</text>
<text class="t" text-anchor="end" transform="translate(106.3 952.5) scale(1.100 1)">0.0</text>
<text class="t" text-anchor="end" transform="translate(106.3 1037.1) scale(1.100 1)"><tspan font-size="24.6" dy="-2.2">−</tspan><tspan dx="0.4" dy="2.2">0.2</tspan></text>
<text class="t" text-anchor="end" transform="translate(106.3 1121.7) scale(1.100 1)"><tspan font-size="24.6" dy="-2.2">−</tspan><tspan dx="0.4" dy="2.2">0.4</tspan></text>
<text class="l" transform="translate(413.92 1181.0) scale(0.9724 1)">YIAS</text>
<text class="l" transform="translate(31.0 915.37) rotate(-90) scale(0.9604 0.972)">FC value</text>
<text class="p" transform="translate(128.56 1095.4) scale(0.8000 1.0013)">C</text>
</g>
<g id="panel-D">
<path d="M921.4 604.4 V1112.4 H1589.6" fill="none" stroke="#444" stroke-width="2.1"/>
<path d="M919.7 1112.4 l1.9 -4.2 l1.9 4.2z M1003.2 1112.4 l1.9 -4.2 l1.9 4.2z M1086.7 1112.4 l1.9 -4.2 l1.9 4.2z M1170.2 1112.4 l1.9 -4.2 l1.9 4.2z M1253.7 1112.4 l1.9 -4.2 l1.9 4.2z M1337.2 1112.4 l1.9 -4.2 l1.9 4.2z M1420.7 1112.4 l1.9 -4.2 l1.9 4.2z M1504.2 1112.4 l1.9 -4.2 l1.9 4.2z M1587.7 1112.4 l1.9 -4.2 l1.9 4.2z M921.4 602.7 l4.2 1.9 l-4.2 1.9z M921.4 675.2 l4.2 1.9 l-4.2 1.9z M921.4 747.8 l4.2 1.9 l-4.2 1.9z M921.4 820.3 l4.2 1.9 l-4.2 1.9z M921.4 892.9 l4.2 1.9 l-4.2 1.9z M921.4 965.4 l4.2 1.9 l-4.2 1.9z M921.4 1037.9 l4.2 1.9 l-4.2 1.9z M921.4 1110.5 l4.2 1.9 l-4.2 1.9z" fill="#444" stroke="none"/>
<path d="M921.6 770.3 L1589.6 875.7" fill="none" stroke="#383838" stroke-width="1.8"/>
<path d="M921.6 735.2 L932.7 738.0 L943.8 740.8 L954.9 743.6 L966.0 746.4 L977.1 749.2 L988.2 751.9 L999.4 754.7 L1010.5 757.4 L1021.6 760.1 L1032.7 762.8 L1043.8 765.5 L1054.9 768.2 L1066.0 770.8 L1077.1 773.4 L1088.2 776.0 L1099.3 778.5 L1110.4 781.0 L1121.5 783.5 L1132.7 785.9 L1143.8 788.2 L1154.9 790.5 L1166.0 792.7 L1177.1 794.8 L1188.2 796.8 L1199.3 798.8 L1210.4 800.6 L1221.5 802.4 L1232.6 804.1 L1243.7 805.7 L1254.8 807.2 L1266.0 808.6 L1277.1 809.9 L1288.2 811.2 L1299.3 812.4 L1310.4 813.5 L1321.5 814.6 L1332.6 815.6 L1343.7 816.6 L1354.8 817.6 L1365.9 818.5 L1377.0 819.3 L1388.2 820.2 L1399.3 821.0 L1410.4 821.8 L1421.5 822.6 L1432.6 823.4 L1443.7 824.2 L1454.8 824.9 L1465.9 825.6 L1477.0 826.4 L1488.1 827.1 L1499.2 827.8 L1510.3 828.4 L1521.4 829.1 L1532.6 829.8 L1543.7 830.5 L1554.8 831.1 L1565.9 831.8 L1577.0 832.4 L1588.1 833.1" fill="none" stroke="#383838" stroke-width="2.0" stroke-dasharray="3.1 5.3"/>
<path d="M921.6 805.4 L932.7 806.1 L943.8 806.8 L954.9 807.5 L966.0 808.2 L977.1 809.0 L988.2 809.7 L999.4 810.5 L1010.5 811.2 L1021.6 812.0 L1032.7 812.8 L1043.8 813.6 L1054.9 814.5 L1066.0 815.3 L1077.1 816.2 L1088.2 817.2 L1099.3 818.2 L1110.4 819.2 L1121.5 820.2 L1132.7 821.3 L1143.8 822.5 L1154.9 823.8 L1166.0 825.1 L1177.1 826.4 L1188.2 827.9 L1199.3 829.5 L1210.4 831.1 L1221.5 832.8 L1232.6 834.7 L1243.7 836.6 L1254.8 838.6 L1266.0 840.7 L1277.1 842.9 L1288.2 845.1 L1299.3 847.4 L1310.4 849.8 L1321.5 852.2 L1332.6 854.7 L1343.7 857.2 L1354.8 859.8 L1365.9 862.4 L1377.0 865.0 L1388.2 867.6 L1399.3 870.3 L1410.4 873.0 L1421.5 875.7 L1432.6 878.4 L1443.7 881.2 L1454.8 884.0 L1465.9 886.7 L1477.0 889.5 L1488.1 892.3 L1499.2 895.1 L1510.3 897.9 L1521.4 900.8 L1532.6 903.6 L1543.7 906.4 L1554.8 909.3 L1565.9 912.1 L1577.0 915.0 L1588.1 917.8" fill="none" stroke="#383838" stroke-width="2.0" stroke-dasharray="3.1 5.3"/>
<circle cx="1005.1" cy="776.7" r="6.0"/>
<circle cx="1005.1" cy="825.2" r="6.0"/>
<circle cx="1013.5" cy="715.4" r="6.0"/>
<circle cx="1013.5" cy="889.8" r="6.0"/>
<circle cx="1021.8" cy="811.9" r="6.0"/>
<circle cx="1038.5" cy="801.7" r="6.0"/>
<circle cx="1038.5" cy="823.9" r="6.0"/>
<circle cx="1046.8" cy="649.8" r="6.0"/>
<circle cx="1046.8" cy="698.8" r="6.0"/>
<circle cx="1046.8" cy="776.7" r="6.0"/>
<circle cx="1055.2" cy="769.3" r="6.0"/>
<circle cx="1055.2" cy="789.7" r="6.0"/>
<circle cx="1055.2" cy="864.4" r="6.0"/>
<circle cx="1063.5" cy="801.2" r="6.0"/>
<circle cx="1071.9" cy="777.9" r="6.0"/>
<circle cx="1080.2" cy="740.7" r="6.0"/>
<circle cx="1080.2" cy="823.4" r="6.0"/>
<circle cx="1088.6" cy="716.2" r="6.0"/>
<circle cx="1088.6" cy="819.6" r="6.0"/>
<circle cx="1088.6" cy="824.2" r="6.0"/>
<circle cx="1088.6" cy="854.5" r="6.0"/>
<circle cx="1088.6" cy="984.3" r="6.0"/>
<circle cx="1097.0" cy="836.2" r="6.0"/>
<circle cx="1097.0" cy="847.6" r="6.0"/>
<circle cx="1097.0" cy="859.5" r="6.0"/>
<circle cx="1105.3" cy="938.6" r="6.0"/>
<circle cx="1113.7" cy="712.3" r="6.0"/>
<circle cx="1113.7" cy="797.9" r="6.0"/>
<circle cx="1113.7" cy="824.7" r="6.0"/>
<circle cx="1122.0" cy="698.8" r="6.0"/>
<circle cx="1122.0" cy="715.7" r="6.0"/>
<circle cx="1122.0" cy="758.3" r="6.0"/>
<circle cx="1130.3" cy="848.4" r="6.0"/>
<circle cx="1138.7" cy="742.5" r="6.0"/>
<circle cx="1138.7" cy="803.0" r="6.0"/>
<circle cx="1155.4" cy="761.9" r="6.0"/>
<circle cx="1163.8" cy="752.7" r="6.0"/>
<circle cx="1213.8" cy="825.2" r="6.0"/>
<circle cx="1213.8" cy="835.4" r="6.0"/>
<circle cx="1222.2" cy="833.6" r="6.0"/>
<circle cx="1264.0" cy="742.2" r="6.0"/>
<circle cx="1264.0" cy="803.5" r="6.0"/>
<circle cx="1272.3" cy="735.3" r="6.0"/>
<circle cx="1272.3" cy="756.5" r="6.0"/>
<circle cx="1280.7" cy="754.5" r="6.0"/>
<circle cx="1280.7" cy="771.0" r="6.0"/>
<circle cx="1289.0" cy="718.7" r="6.0"/>
<circle cx="1289.0" cy="760.8" r="6.0"/>
<circle cx="1289.0" cy="811.9" r="6.0"/>
<circle cx="1289.0" cy="880.8" r="6.0"/>
<circle cx="1297.3" cy="755.7" r="6.0"/>
<circle cx="1297.3" cy="788.2" r="6.0"/>
<circle cx="1297.3" cy="800.4" r="6.0"/>
<circle cx="1297.3" cy="868.2" r="6.0"/>
<circle cx="1297.3" cy="874.6" r="6.0"/>
<circle cx="1305.7" cy="832.8" r="6.0"/>
<circle cx="1305.7" cy="840.0" r="6.0"/>
<circle cx="1305.7" cy="918.2" r="6.0"/>
<circle cx="1322.4" cy="792.8" r="6.0"/>
<circle cx="1322.4" cy="900.5" r="6.0"/>
<circle cx="1330.8" cy="817.0" r="6.0"/>
<circle cx="1347.5" cy="846.9" r="6.0"/>
<circle cx="1347.5" cy="878.4" r="6.0"/>
<circle cx="1355.8" cy="909.0" r="6.0"/>
<circle cx="1364.2" cy="814.5" r="6.0"/>
<circle cx="1364.2" cy="823.9" r="6.0"/>
<circle cx="1372.5" cy="829.0" r="6.0"/>
<circle cx="1372.5" cy="967.7" r="6.0"/>
<circle cx="1380.8" cy="852.2" r="6.0"/>
<circle cx="1380.8" cy="883.4" r="6.0"/>
<circle cx="1380.8" cy="898.7" r="6.0"/>
<circle cx="1389.2" cy="826.7" r="6.0"/>
<circle cx="1389.2" cy="898.7" r="6.0"/>
<circle cx="1397.5" cy="828.0" r="6.0"/>
<circle cx="1456.0" cy="1000.9" r="6.0"/>
<circle cx="1464.3" cy="694.0" r="6.0"/>
<circle cx="1464.3" cy="811.9" r="6.0"/>
<circle cx="1472.7" cy="752.7" r="6.0"/>
<circle cx="1489.4" cy="1029.3" r="6.0"/>
<circle cx="1522.8" cy="901.0" r="6.0"/>
<text class="t" text-anchor="middle" transform="translate(921.6 1145.6) scale(1.070 1)">10</text>
<text class="t" text-anchor="middle" transform="translate(1005.1 1145.6) scale(1.070 1)">20</text>
<text class="t" text-anchor="middle" transform="translate(1088.6 1145.6) scale(1.070 1)">30</text>
<text class="t" text-anchor="middle" transform="translate(1172.1 1145.6) scale(1.070 1)">40</text>
<text class="t" text-anchor="middle" transform="translate(1255.6 1145.6) scale(1.070 1)">50</text>
<text class="t" text-anchor="middle" transform="translate(1339.1 1145.6) scale(1.070 1)">60</text>
<text class="t" text-anchor="middle" transform="translate(1422.6 1145.6) scale(1.070 1)">70</text>
<text class="t" text-anchor="middle" transform="translate(1506.1 1145.6) scale(1.070 1)">80</text>
<text class="t" text-anchor="middle" transform="translate(1589.6 1145.6) scale(1.070 1)">90</text>
<text class="t" text-anchor="end" transform="translate(912.1 615.5) scale(1.100 1)">1.0</text>
<text class="t" text-anchor="end" transform="translate(912.1 688.0) scale(1.100 1)">0.8</text>
<text class="t" text-anchor="end" transform="translate(912.1 760.6) scale(1.100 1)">0.6</text>
<text class="t" text-anchor="end" transform="translate(912.1 833.1) scale(1.100 1)">0.4</text>
<text class="t" text-anchor="end" transform="translate(912.1 905.7) scale(1.100 1)">0.2</text>
<text class="t" text-anchor="end" transform="translate(912.1 978.2) scale(1.100 1)">0.0</text>
<text class="t" text-anchor="end" transform="translate(912.1 1050.7) scale(1.100 1)"><tspan font-size="24.6" dy="-2.2">−</tspan><tspan dx="0.4" dy="2.2">0.2</tspan></text>
<text class="t" text-anchor="end" transform="translate(912.1 1123.3) scale(1.100 1)"><tspan font-size="24.6" dy="-2.2">−</tspan><tspan dx="0.4" dy="2.2">0.4</tspan></text>
<text class="l" transform="translate(1225.72 1186.9) scale(0.9712 1)">YIAS</text>
<text class="l" transform="translate(842.7 928.27) rotate(-90) scale(0.9604 0.972)">FC value</text>
<text class="p" transform="translate(931.77 1101.0) scale(0.9617 1.0110)">D</text>
</g>
<g id="panel-E">
<path d="M119.8 1208.7 V1733.4 H812.8" fill="none" stroke="#444" stroke-width="2.1"/>
<path d="M117.7 1733.4 l1.9 -4.2 l1.9 4.2z M216.7 1733.4 l1.9 -4.2 l1.9 4.2z M315.7 1733.4 l1.9 -4.2 l1.9 4.2z M414.7 1733.4 l1.9 -4.2 l1.9 4.2z M513.6 1733.4 l1.9 -4.2 l1.9 4.2z M612.6 1733.4 l1.9 -4.2 l1.9 4.2z M711.6 1733.4 l1.9 -4.2 l1.9 4.2z M810.6 1733.4 l1.9 -4.2 l1.9 4.2z M119.8 1207.0 l4.2 1.9 l-4.2 1.9z M119.8 1294.4 l4.2 1.9 l-4.2 1.9z M119.8 1381.8 l4.2 1.9 l-4.2 1.9z M119.8 1469.2 l4.2 1.9 l-4.2 1.9z M119.8 1556.6 l4.2 1.9 l-4.2 1.9z M119.8 1644.0 l4.2 1.9 l-4.2 1.9z M119.8 1731.4 l4.2 1.9 l-4.2 1.9z" fill="#444" stroke="none"/>
<path d="M120.0 1325.9 L812.8 1491.2" fill="none" stroke="#383838" stroke-width="1.8"/>
<path d="M120.0 1288.0 L131.5 1291.9 L143.0 1295.9 L154.6 1299.8 L166.1 1303.7 L177.6 1307.7 L189.1 1311.6 L200.7 1315.4 L212.2 1319.3 L223.7 1323.2 L235.2 1327.0 L246.7 1330.8 L258.3 1334.5 L269.8 1338.3 L281.3 1342.0 L292.8 1345.6 L304.3 1349.2 L315.9 1352.8 L327.4 1356.3 L338.9 1359.7 L350.4 1363.1 L362.0 1366.3 L373.5 1369.5 L385.0 1372.6 L396.5 1375.5 L408.0 1378.4 L419.6 1381.1 L431.1 1383.8 L442.6 1386.3 L454.1 1388.7 L465.6 1391.0 L477.2 1393.3 L488.7 1395.4 L500.2 1397.5 L511.7 1399.5 L523.3 1401.4 L534.8 1403.3 L546.3 1405.2 L557.8 1407.0 L569.3 1408.7 L580.9 1410.5 L592.4 1412.2 L603.9 1413.8 L615.4 1415.5 L627.0 1417.1 L638.5 1418.7 L650.0 1420.3 L661.5 1421.9 L673.0 1423.5 L684.6 1425.0 L696.1 1426.6 L707.6 1428.1 L719.1 1429.6 L730.6 1431.2 L742.2 1432.7 L753.7 1434.2 L765.2 1435.7 L776.7 1437.2 L788.3 1438.7 L799.8 1440.1 L811.3 1441.6" fill="none" stroke="#383838" stroke-width="2.0" stroke-dasharray="3.1 5.3"/>
<path d="M120.0 1363.8 L131.5 1365.4 L143.0 1366.9 L154.6 1368.5 L166.1 1370.0 L177.6 1371.6 L189.1 1373.2 L200.7 1374.8 L212.2 1376.5 L223.7 1378.1 L235.2 1379.8 L246.7 1381.5 L258.3 1383.2 L269.8 1385.0 L281.3 1386.8 L292.8 1388.6 L304.3 1390.5 L315.9 1392.5 L327.4 1394.5 L338.9 1396.6 L350.4 1398.7 L362.0 1400.9 L373.5 1403.3 L385.0 1405.7 L396.5 1408.2 L408.0 1410.9 L419.6 1413.6 L431.1 1416.5 L442.6 1419.4 L454.1 1422.5 L465.6 1425.7 L477.2 1429.0 L488.7 1432.3 L500.2 1435.7 L511.7 1439.2 L523.3 1442.8 L534.8 1446.4 L546.3 1450.1 L557.8 1453.8 L569.3 1457.5 L580.9 1461.3 L592.4 1465.1 L603.9 1468.9 L615.4 1472.7 L627.0 1476.6 L638.5 1480.5 L650.0 1484.4 L661.5 1488.3 L673.0 1492.2 L684.6 1496.2 L696.1 1500.1 L707.6 1504.1 L719.1 1508.1 L730.6 1512.0 L742.2 1516.0 L753.7 1520.0 L765.2 1524.0 L776.7 1528.0 L788.3 1532.0 L799.8 1536.0 L811.3 1540.1" fill="none" stroke="#383838" stroke-width="2.0" stroke-dasharray="3.1 5.3"/>
<circle cx="218.6" cy="1339.1" r="6.0"/>
<circle cx="218.6" cy="1345.5" r="6.0"/>
<circle cx="218.6" cy="1431.0" r="6.0"/>
<circle cx="238.4" cy="1276.1" r="6.0"/>
<circle cx="238.4" cy="1434.4" r="6.0"/>
<circle cx="238.4" cy="1604.6" r="6.0"/>
<circle cx="258.2" cy="1312.3" r="6.0"/>
<circle cx="258.2" cy="1403.0" r="6.0"/>
<circle cx="278.0" cy="1280.0" r="6.0"/>
<circle cx="278.0" cy="1283.5" r="6.0"/>
<circle cx="278.0" cy="1342.5" r="6.0"/>
<circle cx="297.8" cy="1267.1" r="6.0"/>
<circle cx="297.8" cy="1340.9" r="6.0"/>
<circle cx="297.8" cy="1346.8" r="6.0"/>
<circle cx="297.8" cy="1360.8" r="6.0"/>
<circle cx="297.8" cy="1388.4" r="6.0"/>
<circle cx="297.8" cy="1392.7" r="6.0"/>
<circle cx="297.8" cy="1418.3" r="6.0"/>
<circle cx="297.8" cy="1429.8" r="6.0"/>
<circle cx="297.8" cy="1498.4" r="6.0"/>
<circle cx="317.6" cy="1268.4" r="6.0"/>
<circle cx="317.6" cy="1302.6" r="6.0"/>
<circle cx="317.6" cy="1332.0" r="6.0"/>
<circle cx="317.6" cy="1359.0" r="6.0"/>
<circle cx="317.6" cy="1386.4" r="6.0"/>
<circle cx="317.6" cy="1419.0" r="6.0"/>
<circle cx="317.6" cy="1459.6" r="6.0"/>
<circle cx="317.6" cy="1478.3" r="6.0"/>
<circle cx="317.6" cy="1512.4" r="6.0"/>
<circle cx="337.4" cy="1246.0" r="6.0"/>
<circle cx="337.4" cy="1313.0" r="6.0"/>
<circle cx="337.4" cy="1317.5" r="6.0"/>
<circle cx="337.4" cy="1361.6" r="6.0"/>
<circle cx="337.4" cy="1432.8" r="6.0"/>
<circle cx="337.4" cy="1453.5" r="6.0"/>
<circle cx="357.1" cy="1255.4" r="6.0"/>
<circle cx="357.1" cy="1292.4" r="6.0"/>
<circle cx="357.1" cy="1323.8" r="6.0"/>
<circle cx="357.1" cy="1332.8" r="6.0"/>
<circle cx="357.1" cy="1386.9" r="6.0"/>
<circle cx="357.1" cy="1392.7" r="6.0"/>
<circle cx="357.1" cy="1422.9" r="6.0"/>
<circle cx="377.0" cy="1360.8" r="6.0"/>
<circle cx="377.0" cy="1383.3" r="6.0"/>
<circle cx="377.0" cy="1417.0" r="6.0"/>
<circle cx="396.8" cy="1388.9" r="6.0"/>
<circle cx="416.6" cy="1317.2" r="6.0"/>
<circle cx="416.6" cy="1329.2" r="6.0"/>
<circle cx="436.4" cy="1419.0" r="6.0"/>
<circle cx="436.4" cy="1433.6" r="6.0"/>
<circle cx="456.2" cy="1394.0" r="6.0"/>
<circle cx="456.2" cy="1424.2" r="6.0"/>
<circle cx="456.2" cy="1445.6" r="6.0"/>
<circle cx="456.2" cy="1466.0" r="6.0"/>
<circle cx="456.2" cy="1528.0" r="6.0"/>
<circle cx="476.0" cy="1412.7" r="6.0"/>
<circle cx="495.8" cy="1288.6" r="6.0"/>
<circle cx="495.8" cy="1311.8" r="6.0"/>
<circle cx="495.8" cy="1391.0" r="6.0"/>
<circle cx="495.8" cy="1397.3" r="6.0"/>
<circle cx="495.8" cy="1430.3" r="6.0"/>
<circle cx="495.8" cy="1441.3" r="6.0"/>
<circle cx="515.5" cy="1319.0" r="6.0"/>
<circle cx="515.5" cy="1416.0" r="6.0"/>
<circle cx="515.5" cy="1431.8" r="6.0"/>
<circle cx="515.5" cy="1436.2" r="6.0"/>
<circle cx="515.5" cy="1463.0" r="6.0"/>
<circle cx="515.5" cy="1490.6" r="6.0"/>
<circle cx="555.2" cy="1382.8" r="6.0"/>
<circle cx="555.2" cy="1477.0" r="6.0"/>
<circle cx="575.0" cy="1487.2" r="6.0"/>
<circle cx="594.8" cy="1377.7" r="6.0"/>
<circle cx="594.8" cy="1447.6" r="6.0"/>
<circle cx="634.4" cy="1506.0" r="6.0"/>
<circle cx="693.8" cy="1314.9" r="6.0"/>
<circle cx="693.8" cy="1406.3" r="6.0"/>
<circle cx="693.8" cy="1440.0" r="6.0"/>
<circle cx="693.8" cy="1641.3" r="6.0"/>
<circle cx="753.2" cy="1436.7" r="6.0"/>
<circle cx="753.2" cy="1548.2" r="6.0"/>
<circle cx="773.0" cy="1577.5" r="6.0"/>
<text class="t" text-anchor="end" transform="translate(137.2 1767.8) scale(1.070 1)"><tspan font-size="25.8" dy="-1.7">−</tspan><tspan dx="1.7" dy="1.7">5</tspan></text>
<text class="t" text-anchor="middle" transform="translate(219.4 1767.8) scale(1.070 1)">0</text>
<text class="t" text-anchor="middle" transform="translate(318.4 1767.8) scale(1.070 1)">5</text>
<text class="t" text-anchor="middle" transform="translate(417.4 1767.8) scale(1.070 1)">10</text>
<text class="t" text-anchor="middle" transform="translate(516.3 1767.8) scale(1.070 1)">15</text>
<text class="t" text-anchor="middle" transform="translate(615.3 1767.8) scale(1.070 1)">20</text>
<text class="t" text-anchor="middle" transform="translate(714.3 1767.8) scale(1.070 1)">25</text>
<text class="t" text-anchor="middle" transform="translate(813.3 1767.8) scale(1.070 1)">30</text>
<text class="t" text-anchor="end" transform="translate(110.6 1218.8) scale(1.100 1)">0.8</text>
<text class="t" text-anchor="end" transform="translate(110.6 1306.2) scale(1.100 1)">0.6</text>
<text class="t" text-anchor="end" transform="translate(110.6 1393.6) scale(1.100 1)">0.4</text>
<text class="t" text-anchor="end" transform="translate(110.6 1481.0) scale(1.100 1)">0.2</text>
<text class="t" text-anchor="end" transform="translate(110.6 1568.4) scale(1.100 1)">0.0</text>
<text class="t" text-anchor="end" transform="translate(110.6 1655.8) scale(1.100 1)"><tspan font-size="24.6" dy="-2.2">−</tspan><tspan dx="0.4" dy="2.2">0.2</tspan></text>
<text class="t" text-anchor="end" transform="translate(110.6 1743.2) scale(1.100 1)"><tspan font-size="24.6" dy="-2.2">−</tspan><tspan dx="0.4" dy="2.2">0.4</tspan></text>
<text class="l" transform="translate(420.02 1812.3) scale(0.9696 1)">K-ARS</text>
<text class="l" transform="translate(31.0 1540.77) rotate(-90) scale(0.9604 0.972)">FC value</text>
<text class="p" transform="translate(135.84 1720.5) scale(0.7500 1.0110)">E</text>
</g>
<g id="panel-F">
<path d="M937.8 1207.6 V1739.0 H1624.5" fill="none" stroke="#444" stroke-width="2.1"/>
<path d="M935.1 1739.0 l1.9 -4.2 l1.9 4.2z M1033.3 1739.0 l1.9 -4.2 l1.9 4.2z M1131.5 1739.0 l1.9 -4.2 l1.9 4.2z M1229.7 1739.0 l1.9 -4.2 l1.9 4.2z M1327.9 1739.0 l1.9 -4.2 l1.9 4.2z M1426.1 1739.0 l1.9 -4.2 l1.9 4.2z M1524.3 1739.0 l1.9 -4.2 l1.9 4.2z M1622.5 1739.0 l1.9 -4.2 l1.9 4.2z M937.8 1206.0 l4.2 1.9 l-4.2 1.9z M937.8 1281.9 l4.2 1.9 l-4.2 1.9z M937.8 1357.8 l4.2 1.9 l-4.2 1.9z M937.8 1433.6 l4.2 1.9 l-4.2 1.9z M937.8 1509.5 l4.2 1.9 l-4.2 1.9z M937.8 1585.4 l4.2 1.9 l-4.2 1.9z M937.8 1661.3 l4.2 1.9 l-4.2 1.9z M937.8 1737.2 l4.2 1.9 l-4.2 1.9z" fill="#444" stroke="none"/>
<path d="M937.9 1382.5 L1624.5 1497.4" fill="none" stroke="#383838" stroke-width="1.8"/>
<path d="M937.9 1345.3 L949.3 1348.4 L960.7 1351.5 L972.2 1354.5 L983.6 1357.6 L995.0 1360.7 L1006.4 1363.7 L1017.8 1366.7 L1029.2 1369.7 L1040.7 1372.7 L1052.1 1375.7 L1063.5 1378.6 L1074.9 1381.5 L1086.3 1384.4 L1097.8 1387.3 L1109.2 1390.1 L1120.6 1392.8 L1132.0 1395.5 L1143.4 1398.1 L1154.8 1400.7 L1166.3 1403.2 L1177.7 1405.6 L1189.1 1407.9 L1200.5 1410.2 L1211.9 1412.3 L1223.4 1414.3 L1234.8 1416.2 L1246.2 1418.0 L1257.6 1419.7 L1269.0 1421.3 L1280.5 1422.8 L1291.9 1424.2 L1303.3 1425.5 L1314.7 1426.8 L1326.1 1427.9 L1337.5 1429.1 L1349.0 1430.1 L1360.4 1431.1 L1371.8 1432.1 L1383.2 1433.1 L1394.6 1434.0 L1406.1 1434.8 L1417.5 1435.7 L1428.9 1436.5 L1440.3 1437.3 L1451.7 1438.1 L1463.1 1438.9 L1474.6 1439.7 L1486.0 1440.4 L1497.4 1441.2 L1508.8 1441.9 L1520.2 1442.6 L1531.7 1443.3 L1543.1 1444.0 L1554.5 1444.7 L1565.9 1445.4 L1577.3 1446.1 L1588.7 1446.8 L1600.2 1447.5 L1611.6 1448.1 L1623.0 1448.8" fill="none" stroke="#383838" stroke-width="2.0" stroke-dasharray="3.1 5.3"/>
<path d="M937.9 1419.7 L949.3 1420.5 L960.7 1421.2 L972.2 1421.9 L983.6 1422.7 L995.0 1423.5 L1006.4 1424.2 L1017.8 1425.0 L1029.2 1425.8 L1040.7 1426.7 L1052.1 1427.5 L1063.5 1428.4 L1074.9 1429.3 L1086.3 1430.3 L1097.8 1431.2 L1109.2 1432.3 L1120.6 1433.3 L1132.0 1434.5 L1143.4 1435.6 L1154.8 1436.9 L1166.3 1438.2 L1177.7 1439.6 L1189.1 1441.1 L1200.5 1442.7 L1211.9 1444.4 L1223.4 1446.2 L1234.8 1448.1 L1246.2 1450.2 L1257.6 1452.3 L1269.0 1454.5 L1280.5 1456.9 L1291.9 1459.3 L1303.3 1461.8 L1314.7 1464.4 L1326.1 1467.0 L1337.5 1469.7 L1349.0 1472.5 L1360.4 1475.3 L1371.8 1478.1 L1383.2 1481.0 L1394.6 1483.9 L1406.1 1486.8 L1417.5 1489.8 L1428.9 1492.8 L1440.3 1495.8 L1451.7 1498.8 L1463.1 1501.9 L1474.6 1504.9 L1486.0 1508.0 L1497.4 1511.1 L1508.8 1514.2 L1520.2 1517.3 L1531.7 1520.4 L1543.1 1523.5 L1554.5 1526.6 L1565.9 1529.8 L1577.3 1532.9 L1588.7 1536.0 L1600.2 1539.2 L1611.6 1542.3 L1623.0 1545.5" fill="none" stroke="#383838" stroke-width="2.0" stroke-dasharray="3.1 5.3"/>
<circle cx="1035.2" cy="1388.9" r="6.0"/>
<circle cx="1035.2" cy="1413.2" r="6.0"/>
<circle cx="1035.2" cy="1449.4" r="6.0"/>
<circle cx="1054.8" cy="1362.1" r="6.0"/>
<circle cx="1054.8" cy="1462.4" r="6.0"/>
<circle cx="1054.8" cy="1605.1" r="6.0"/>
<circle cx="1074.5" cy="1352.7" r="6.0"/>
<circle cx="1074.5" cy="1424.7" r="6.0"/>
<circle cx="1094.1" cy="1254.4" r="6.0"/>
<circle cx="1094.1" cy="1323.3" r="6.0"/>
<circle cx="1094.1" cy="1388.2" r="6.0"/>
<circle cx="1113.8" cy="1305.4" r="6.0"/>
<circle cx="1113.8" cy="1387.6" r="6.0"/>
<circle cx="1113.8" cy="1415.2" r="6.0"/>
<circle cx="1113.8" cy="1436.2" r="6.0"/>
<circle cx="1113.8" cy="1468.1" r="6.0"/>
<circle cx="1113.8" cy="1474.4" r="6.0"/>
<circle cx="1113.8" cy="1490.0" r="6.0"/>
<circle cx="1113.8" cy="1505.5" r="6.0"/>
<circle cx="1133.4" cy="1323.8" r="6.0"/>
<circle cx="1133.4" cy="1351.9" r="6.0"/>
<circle cx="1133.4" cy="1371.0" r="6.0"/>
<circle cx="1133.4" cy="1380.0" r="6.0"/>
<circle cx="1133.4" cy="1411.9" r="6.0"/>
<circle cx="1133.4" cy="1437.4" r="6.0"/>
<circle cx="1133.4" cy="1506.3" r="6.0"/>
<circle cx="1133.4" cy="1557.1" r="6.0"/>
<circle cx="1153.0" cy="1305.4" r="6.0"/>
<circle cx="1153.0" cy="1350.1" r="6.0"/>
<circle cx="1153.0" cy="1368.0" r="6.0"/>
<circle cx="1153.0" cy="1412.7" r="6.0"/>
<circle cx="1153.0" cy="1447.6" r="6.0"/>
<circle cx="1153.0" cy="1483.1" r="6.0"/>
<circle cx="1172.7" cy="1323.0" r="6.0"/>
<circle cx="1172.7" cy="1343.7" r="6.0"/>
<circle cx="1172.7" cy="1350.1" r="6.0"/>
<circle cx="1172.7" cy="1367.2" r="6.0"/>
<circle cx="1172.7" cy="1435.4" r="6.0"/>
<circle cx="1172.7" cy="1479.8" r="6.0"/>
<circle cx="1172.7" cy="1535.7" r="6.0"/>
<circle cx="1192.3" cy="1399.1" r="6.0"/>
<circle cx="1192.3" cy="1431.8" r="6.0"/>
<circle cx="1212.0" cy="1460.9" r="6.0"/>
<circle cx="1231.6" cy="1370.5" r="6.0"/>
<circle cx="1231.6" cy="1381.8" r="6.0"/>
<circle cx="1231.6" cy="1493.8" r="6.0"/>
<circle cx="1251.2" cy="1429.8" r="6.0"/>
<circle cx="1251.2" cy="1448.9" r="6.0"/>
<circle cx="1270.9" cy="1404.2" r="6.0"/>
<circle cx="1270.9" cy="1436.9" r="6.0"/>
<circle cx="1270.9" cy="1498.2" r="6.0"/>
<circle cx="1270.9" cy="1516.5" r="6.0"/>
<circle cx="1290.5" cy="1496.3" r="6.0"/>
<circle cx="1310.2" cy="1326.4" r="6.0"/>
<circle cx="1310.2" cy="1409.3" r="6.0"/>
<circle cx="1310.2" cy="1424.1" r="6.0"/>
<circle cx="1310.2" cy="1428.0" r="6.0"/>
<circle cx="1310.2" cy="1466.8" r="6.0"/>
<circle cx="1310.2" cy="1485.9" r="6.0"/>
<circle cx="1329.8" cy="1365.9" r="6.0"/>
<circle cx="1329.8" cy="1438.7" r="6.0"/>
<circle cx="1329.8" cy="1461.7" r="6.0"/>
<circle cx="1329.8" cy="1516.0" r="6.0"/>
<circle cx="1329.8" cy="1520.0" r="6.0"/>
<circle cx="1329.8" cy="1587.7" r="6.0"/>
<circle cx="1369.1" cy="1364.2" r="6.0"/>
<circle cx="1369.1" cy="1441.3" r="6.0"/>
<circle cx="1388.7" cy="1440.0" r="6.0"/>
<circle cx="1408.4" cy="1446.6" r="6.0"/>
<circle cx="1408.4" cy="1526.0" r="6.0"/>
<circle cx="1447.6" cy="1300.3" r="6.0"/>
<circle cx="1506.6" cy="1362.1" r="6.0"/>
<circle cx="1506.6" cy="1441.3" r="6.0"/>
<circle cx="1506.6" cy="1454.0" r="6.0"/>
<circle cx="1506.6" cy="1520.1" r="6.0"/>
<circle cx="1565.5" cy="1424.7" r="6.0"/>
<circle cx="1565.5" cy="1652.3" r="6.0"/>
<circle cx="1585.1" cy="1622.5" r="6.0"/>
<text class="t" text-anchor="end" transform="translate(954.6 1773.5) scale(1.070 1)"><tspan font-size="25.8" dy="-1.7">−</tspan><tspan dx="1.7" dy="1.7">5</tspan></text>
<text class="t" text-anchor="middle" transform="translate(1036.0 1773.5) scale(1.070 1)">0</text>
<text class="t" text-anchor="middle" transform="translate(1134.2 1773.5) scale(1.070 1)">5</text>
<text class="t" text-anchor="middle" transform="translate(1232.4 1773.5) scale(1.070 1)">10</text>
<text class="t" text-anchor="middle" transform="translate(1330.6 1773.5) scale(1.070 1)">15</text>
<text class="t" text-anchor="middle" transform="translate(1428.8 1773.5) scale(1.070 1)">20</text>
<text class="t" text-anchor="middle" transform="translate(1527.0 1773.5) scale(1.070 1)">25</text>
<text class="t" text-anchor="middle" transform="translate(1625.2 1773.5) scale(1.070 1)">30</text>
<text class="t" text-anchor="end" transform="translate(928.1 1217.8) scale(1.100 1)">1.0</text>
<text class="t" text-anchor="end" transform="translate(928.1 1293.7) scale(1.100 1)">0.8</text>
<text class="t" text-anchor="end" transform="translate(928.1 1369.6) scale(1.100 1)">0.6</text>
<text class="t" text-anchor="end" transform="translate(928.1 1445.4) scale(1.100 1)">0.4</text>
<text class="t" text-anchor="end" transform="translate(928.1 1521.3) scale(1.100 1)">0.2</text>
<text class="t" text-anchor="end" transform="translate(928.1 1597.2) scale(1.100 1)">0.0</text>
<text class="t" text-anchor="end" transform="translate(928.1 1673.1) scale(1.100 1)"><tspan font-size="24.6" dy="-2.2">−</tspan><tspan dx="0.4" dy="2.2">0.2</tspan></text>
<text class="t" text-anchor="end" transform="translate(928.1 1749.0) scale(1.100 1)"><tspan font-size="24.6" dy="-2.2">−</tspan><tspan dx="0.4" dy="2.2">0.4</tspan></text>
<text class="l" transform="translate(1213.92 1812.2) scale(0.9677 1)">K-ARS</text>
<text class="l" transform="translate(861.2 1534.37) rotate(-90) scale(0.9566 0.972)">FC value</text>
<text class="p" transform="translate(955.39 1726.6) scale(0.7644 1.0078)">F</text>
</g>
</g>
</svg>
</body>
</html>
